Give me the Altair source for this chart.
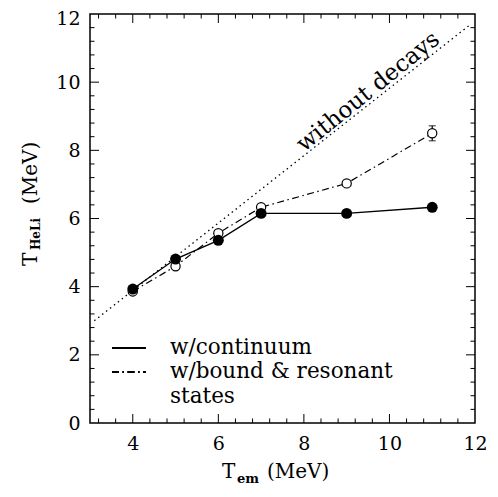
import altair as alt
import pandas as pd

# ---- data ----
t_em = [4, 5, 6, 7, 9, 11]
t_cont = [3.93, 4.81, 5.36, 6.15, 6.15, 6.33]      # w/continuum (filled)
t_bound = [3.86, 4.60, 5.57, 6.33, 7.03, 8.50]     # w/bound & resonant states (open)
err_x = [11]
err_lo = [8.28]
err_hi = [8.72]
nodecay_x = [3.1, 11.9]
nodecay_y = [3.0, 11.7]

x_major = [4, 6, 8, 10]
x_minor = [3.2, 3.6, 4.4, 4.8, 5.2, 5.6, 6.4, 6.8, 7.2, 7.6, 8.4, 8.8, 9.2, 9.6,
           10.4, 10.8, 11.2, 11.6]
y_major = [2, 4, 6, 8, 10]
y_minor = [0.4, 0.8, 1.2, 1.6, 2.4, 2.8, 3.2, 3.6, 4.4, 4.8, 5.2, 5.6, 6.4, 6.8,
           7.2, 7.6, 8.4, 8.8, 9.2, 9.6, 10.4, 10.8, 11.2, 11.6]
x_labels = [4, 6, 8, 10, 12]
y_labels = [0, 2, 4, 6, 8, 10, 12]

W, H = 385, 409
TOP = 6
FONT = "DejaVu Serif"

df = pd.DataFrame({"x": t_em, "cont": t_cont, "bound": t_bound})
df_err = pd.DataFrame({"x": err_x, "lo": err_lo, "hi": err_hi})
df_nd = pd.DataFrame({"x": nodecay_x, "y": nodecay_y})

xs = alt.Scale(domain=[3, 12], nice=False, zero=False)
ys = alt.Scale(domain=[0, 12], nice=False, zero=False)

xaxis = alt.Axis(values=x_labels, title=None, ticks=False, domain=False, grid=False,
                 labelFont=FONT, labelFontSize=19, labelColor="black",
                 labelPadding=11, labelFlush=False, labelOverlap=False)
yaxis = alt.Axis(values=y_labels, title=None, ticks=False, domain=False, grid=False,
                 labelFont=FONT, labelFontSize=19, labelColor="black",
                 labelPadding=10, labelFlush=False, labelOverlap=False,
                 labelOffset={"condition": {"test": "datum.value == 12", "value": 4},
                              "value": 0})

base = alt.Chart(df)

nodecay = alt.Chart(df_nd).mark_line(color="black", strokeWidth=1.3,
                                     strokeDash=[1.5, 3.5]).encode(
    x=alt.X("x:Q", scale=xs, axis=xaxis),
    y=alt.Y("y:Q", scale=ys, axis=yaxis),
)

bound_line = base.mark_line(color="black", strokeWidth=1.2,
                            strokeDash=[7, 3.5, 1.5, 3.5]).encode(
    x=alt.X("x:Q", scale=xs), y=alt.Y("bound:Q", scale=ys))
cont_line = base.mark_line(color="black", strokeWidth=1.3).encode(
    x=alt.X("x:Q", scale=xs), y=alt.Y("cont:Q", scale=ys))

err_rule = alt.Chart(df_err).mark_rule(color="black", strokeWidth=1.2).encode(
    x=alt.X("x:Q", scale=xs), y=alt.Y("lo:Q", scale=ys), y2="hi:Q")
err_cap_lo = alt.Chart(df_err).mark_tick(color="black", orient="horizontal",
                                         size=7, thickness=1.2).encode(
    x=alt.X("x:Q", scale=xs), y=alt.Y("lo:Q", scale=ys))
err_cap_hi = alt.Chart(df_err).mark_tick(color="black", orient="horizontal",
                                         size=7, thickness=1.2).encode(
    x=alt.X("x:Q", scale=xs), y=alt.Y("hi:Q", scale=ys))

open_pts = base.mark_point(shape="circle", size=85, filled=True, fill="white",
                           stroke="black", strokeWidth=1.2, opacity=1).encode(
    x=alt.X("x:Q", scale=xs), y=alt.Y("bound:Q", scale=ys))
filled_pts = base.mark_point(shape="circle", size=120, filled=True, color="black",
                             opacity=1).encode(
    x=alt.X("x:Q", scale=xs), y=alt.Y("cont:Q", scale=ys))

# inside ticks on all four sides
dfxM = pd.DataFrame({"v": x_major})
dfxm = pd.DataFrame({"v": x_minor})
dfyM = pd.DataFrame({"v": y_major})
dfym = pd.DataFrame({"v": y_minor})
tick_layers = []
for d, L in ((dfxM, 9), (dfxm, 4.5)):
    tick_layers.append(alt.Chart(d).mark_rule(color="black", strokeWidth=1).encode(
        x=alt.X("v:Q", scale=xs), y=alt.value(H), y2=alt.value(H - L)))
    tick_layers.append(alt.Chart(d).mark_rule(color="black", strokeWidth=1).encode(
        x=alt.X("v:Q", scale=xs), y=alt.value(0), y2=alt.value(L)))
for d, L in ((dfyM, 9), (dfym, 4.5)):
    tick_layers.append(alt.Chart(d).mark_rule(color="black", strokeWidth=1).encode(
        y=alt.Y("v:Q", scale=ys), x=alt.value(0), x2=alt.value(L)))
    tick_layers.append(alt.Chart(d).mark_rule(color="black", strokeWidth=1).encode(
        y=alt.Y("v:Q", scale=ys), x=alt.value(W), x2=alt.value(W - L)))

# annotation
df_lbl = pd.DataFrame({"x": [9.5], "y": [9.72], "t": ["without decays"]})
nd_label = alt.Chart(df_lbl).mark_text(font=FONT, fontSize=23, angle=321,
                                       color="black").encode(
    x=alt.X("x:Q", scale=xs), y=alt.Y("y:Q", scale=ys), text="t:N")

# legend (pixel offsets relative to plot top-left)
o = -TOP + 3
leg_solid = alt.Chart(df).mark_rule(color="black", strokeWidth=1.3).encode(
    x=alt.value(22), x2=alt.value(56), y=alt.value(337 + o))
leg_dash = alt.Chart(df).mark_rule(color="black", strokeWidth=1.2,
                                   strokeDash=[7, 3.5, 1.5, 3.5]).encode(
    x=alt.value(22), x2=alt.value(56), y=alt.value(361 + o))


def txt(s, x, y, size, angle=0, weight="normal", baseline="middle"):
    return alt.Chart(pd.DataFrame({"t": [s]})).mark_text(
        font=FONT, fontSize=size, align="left", baseline=baseline,
        angle=angle, fontWeight=weight, color="black").encode(
        x=alt.value(x), y=alt.value(y), text="t:N")


leg_t1 = txt("w/continuum", 80, 337 + o, 21.5)
leg_t2 = txt("w/bound & resonant", 80, 361 + o, 21.5)
leg_t3 = txt("states", 80, 386 + o, 21.5)

# axis titles with subscripts
xt1 = txt("T", 132, 467 + o, 20, baseline="alphabetic")
xt2 = txt("em", 147, 472 + o, 13, weight="bold", baseline="alphabetic")
xt3 = txt("(MeV)", 177, 467 + o, 20, baseline="alphabetic")
yt1 = txt("T", -53, 255 + o, 20, angle=270, baseline="alphabetic")
yt2 = txt("HeLi", -50, 239 + o, 12, angle=270, weight="bold", baseline="alphabetic")
yt3 = txt("(MeV)", -53, 193 + o, 20, angle=270, baseline="alphabetic")

chart = alt.layer(
    nodecay, bound_line, cont_line, err_rule, err_cap_lo, err_cap_hi,
    open_pts, filled_pts, *tick_layers, nd_label,
    leg_solid, leg_dash, leg_t1, leg_t2, leg_t3,
    xt1, xt2, xt3, yt1, yt2, yt3,
).properties(
    width=W, height=H, autosize="none",
    padding={"left": 82, "top": TOP, "right": 15, "bottom": 66},
    background="white",
).configure_view(stroke="black", strokeWidth=1.5)

chart.save("out.html", embed_options={"renderer": "svg", "actions": False})
